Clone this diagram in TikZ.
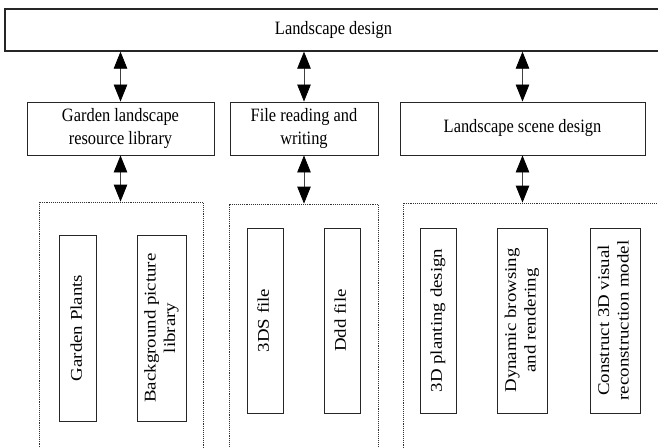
\documentclass[tikz,border=0pt]{standalone}
\usepackage{graphicx}
\usepackage{fontspec}
\setmainfont{Liberation Serif}
\usetikzlibrary{arrows.meta}
\newcommand\hlab[1]{\scalebox{1}[1.15]{\begin{tabular}{@{}c@{}}#1\end{tabular}}}
\newcommand\vlab[1]{\scalebox{1}[1.15]{\rotatebox{90}{\begin{tabular}{@{}c@{}}#1\end{tabular}}}}
\tikzset{
  box/.style={draw=black!85, line width=0.9pt, inner sep=0pt, fill=white},
  topbox/.style={box, line width=1.3pt},
  grp/.style={draw=black!80, line width=0.8pt, dash pattern=on 1.1pt off 1.0pt, inner sep=0pt},
  biarrow/.style={line width=0.8pt, draw=black!75,
    {Triangle[length=17pt,width=13.5pt,color=black]}-{Triangle[length=17pt,width=13.5pt,color=black]}},
}
\begin{document}
\begin{tikzpicture}[x=1pt,y=-1pt,font=\fontsize{16.4}{19.5}\selectfont]
\clip (0,0) rectangle (658,447);
\fill[white] (0,0) rectangle (658,447);
% top
\node[topbox, minimum width=657pt, minimum height=42pt] (top) at (333.5,30) {\hlab{Landscape design}};
% second row
\node[box, minimum width=187pt, minimum height=53pt] (b1) at (120.5,128.5) {\hlab{Garden landscape\\resource library}};
\node[box, minimum width=148pt, minimum height=53pt] (b2) at (304,128.5) {\hlab{File reading and\\writing}};
\node[box, minimum width=245pt, minimum height=53pt] (b3) at (522.5,128.5) {\hlab{Landscape scene design}};
% groups
\node[grp, minimum width=164pt, minimum height=258pt] (d1) at (121,331) {};
\node[grp, minimum width=149pt, minimum height=256pt] (d2) at (303.5,332) {};
\node[grp, minimum width=259pt, minimum height=257pt] (d3) at (532.5,331.5) {};
% inner boxes
\node[box, minimum width=37pt, minimum height=186pt] (gp) at (78,328) {\vlab{Garden Plants}};
\node[box, minimum width=49pt, minimum height=186pt] (bg) at (161.5,328) {\vlab{Background picture\\library}};
\node[box, minimum width=36pt, minimum height=185pt] (tds) at (265,320.5) {\vlab{3DS file}};
\node[box, minimum width=36pt, minimum height=185pt] (ddd) at (342,320.5) {\vlab{Ddd file}};
\node[box, minimum width=36pt, minimum height=185pt] (pl) at (438,320.5) {\vlab{3D planting design}};
\node[box, minimum width=50pt, minimum height=185pt] (dyn) at (522,320.5) {\vlab{Dynamic browsing\\and rendering}};
\node[box, minimum width=50pt, minimum height=185pt] (con) at (615,320.5) {\vlab{Construct 3D visual\\reconstruction model}};
% arrows
\draw[biarrow] (b1.north) -- (b1.north |- top.south);
\draw[biarrow] (b2.north) -- (b2.north |- top.south);
\draw[biarrow] (b3.north) -- (b3.north |- top.south);
\draw[biarrow] (b1.south) -- (b1.south |- d1.north);
\draw[biarrow] (b2.south) -- (b2.south |- d2.north);
\draw[biarrow] (b3.south) -- (b3.south |- d3.north);
\end{tikzpicture}
\end{document}
